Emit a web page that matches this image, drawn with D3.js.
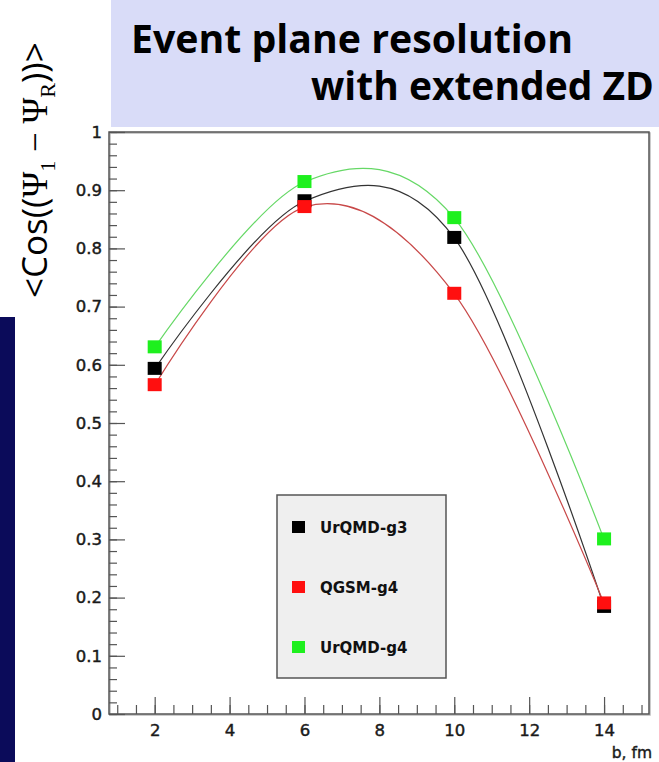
<!DOCTYPE html>
<html><head><meta charset="utf-8">
<script src="https://cdn.jsdelivr.net/npm/d3@7"></script>
<style>html,body{margin:0;padding:0;background:#fff;}svg{display:block;}</style>
</head><body>
<script>
// ---- data ----
const bValues = [2, 6, 10, 14];
const urqmdG3 = [0.593, 0.881, 0.818, 0.184];
const qgsmG4  = [0.565, 0.871, 0.722, 0.190];
const urqmdG4 = [0.630, 0.914, 0.852, 0.300];
const seriesNames = ["UrQMD-g3", "QGSM-g4", "UrQMD-g4"];
const xMajorTicks = [2, 4, 6, 8, 10, 12, 14];
const xTickLabels = ["2", "4", "6", "8", "10", "12", "14"];
const yMajorTicks = [0, 0.1, 0.2, 0.3, 0.4, 0.5, 0.6, 0.7, 0.8, 0.9, 1];
const yTickLabels = ["0", "0.1", "0.2", "0.3", "0.4", "0.5", "0.6", "0.7", "0.8", "0.9", "1"];
const titleLines = ["Event plane resolution", "with extended ZD"];
const xTitle = "b, fm";

const W = 659, H = 762;
const svg = d3.select("body").append("svg").attr("width", W).attr("height", H);

// left navy strip
svg.append("rect").attr("x", 0).attr("y", 317).attr("width", 15).attr("height", H - 317).attr("fill", "#0b0b5a");

// title box
svg.append("rect").attr("x", 111).attr("y", 0).attr("width", W - 111).attr("height", 127).attr("fill", "#d9dcf8");
function fitText(sel, target) {
  const f = 36 * target / sel.node().getComputedTextLength();
  sel.attr("font-size", f);
}
const titleFont = "'Open Sans', Lato, sans-serif";
const t1 = svg.append("text").attr("x", 131).attr("y", 53).text(titleLines[0])
  .attr("font-family", titleFont).attr("font-weight", 700).attr("font-size", 36).attr("fill", "#000");
fitText(t1, 442);
const t2 = svg.append("text").attr("x", 311).attr("y", 100).text(titleLines[1])
  .attr("font-family", titleFont).attr("font-weight", 700).attr("font-size", 36).attr("fill", "#000");
fitText(t2, 343);

// scales
const x = d3.scaleLinear().domain([0.78, 15.2]).range([109, 649]);
const y = d3.scaleLinear().domain([0, 1]).range([714, 132]);

// frame
svg.append("rect").attr("x", 110).attr("y", 133).attr("width", 540).attr("height", 582).attr("fill", "none").attr("stroke", "#bbb").attr("stroke-width", 1.5);
svg.append("rect").attr("x", 109).attr("y", 132).attr("width", 540).attr("height", 582).attr("fill", "none").attr("stroke", "#555").attr("stroke-width", 1.5);

const labelFont = "'DejaVu Sans', sans-serif";
// y axis
const yMinor = d3.range(0, 1.0001, 0.02);
const gyMinor = svg.append("g").attr("transform", "translate(109,0)")
  .call(d3.axisLeft(y).tickValues(yMinor).tickSize(-8).tickFormat(""));
const gy = svg.append("g").attr("transform", "translate(109,0)")
  .call(d3.axisLeft(y).tickValues(yMajorTicks).tickSize(-16).tickPadding(7).tickFormat((d, i) => yTickLabels[i]));
// x axis
const xMinor = d3.range(1, 15.0001, 0.5);
const gxMinor = svg.append("g").attr("transform", "translate(0,714)")
  .call(d3.axisBottom(x).tickValues(xMinor).tickSize(-9).tickFormat(""));
const gx = svg.append("g").attr("transform", "translate(0,714)")
  .call(d3.axisBottom(x).tickValues(xMajorTicks).tickSize(-17).tickPadding(10).tickFormat((d, i) => xTickLabels[i]));
[gyMinor, gy, gxMinor, gx].forEach(g => {
  g.select(".domain").remove();
  g.selectAll("line").attr("stroke", "#555").attr("stroke-width", 1.2);
  g.selectAll("text").attr("font-family", labelFont).attr("font-size", 16.5).attr("fill", "#1a1a1a")
    .attr("stroke", "#1a1a1a").attr("stroke-width", 0.45);
});

svg.append("text").attr("x", 652).attr("y", 758).attr("text-anchor", "end").text(xTitle)
  .attr("font-family", labelFont).attr("font-size", 15.5).attr("fill", "#1a1a1a")
  .attr("stroke", "#1a1a1a").attr("stroke-width", 0.4);

// y axis title
const yl = svg.append("text").attr("transform", "translate(47,298) rotate(-90)")
  .attr("font-size", 35).attr("fill", "#000");
const sans = "'Open Sans', 'Noto Sans', sans-serif", serif = "'Liberation Serif', 'DejaVu Serif', serif";
yl.append("tspan").attr("font-family", sans).text("<Cos((");
yl.append("tspan").attr("font-family", serif).text("Ψ");
yl.append("tspan").attr("font-family", serif).attr("font-size", 22).attr("dy", 8).text("1");
yl.append("tspan").attr("font-family", serif).attr("dy", -8).text(" − Ψ");
yl.append("tspan").attr("font-family", serif).attr("font-size", 22).attr("dy", 8).text("R");
yl.append("tspan").attr("font-family", sans).attr("dy", -8).text("))>");

// curves + markers
const series = [
  {name: seriesNames[0], vals: urqmdG3, line: "#333333", mark: "#000000"},
  {name: seriesNames[1], vals: qgsmG4,  line: "#c84848", mark: "#ff0f0f"},
  {name: seriesNames[2], vals: urqmdG4, line: "#66d866", mark: "#1ef01e"}
];
const line = d3.line().x(d => x(d[0])).y(d => y(d[1])).curve(d3.curveCardinal.tension(0));
series.forEach(s => {
  svg.append("path").attr("d", line(bValues.map((b, i) => [b, s.vals[i]])))
    .attr("fill", "none").attr("stroke", s.line).attr("stroke-width", 1.2);
});
series.forEach(s => {
  svg.append("g").selectAll("rect").data(bValues.map((b, i) => [b, s.vals[i]])).join("rect")
    .attr("x", d => x(d[0]) - 7).attr("y", d => y(d[1]) - 7).attr("width", 14).attr("height", 13)
    .attr("fill", s.mark);
});

// legend
svg.append("rect").attr("x", 277).attr("y", 495).attr("width", 169).attr("height", 183)
  .attr("fill", "#efefef").attr("stroke", "#555").attr("stroke-width", 1.5);
const legY = [527, 587, 647];
series.forEach((s, i) => {
  svg.append("rect").attr("x", 292).attr("y", legY[i] - 6).attr("width", 13).attr("height", 12).attr("fill", s.mark);
  svg.append("text").attr("x", 320).attr("y", legY[i] + 5.5).text(s.name)
    .attr("font-family", labelFont).attr("font-weight", "bold").attr("font-size", 15).attr("fill", "#111");
});
</script>
</body></html>
